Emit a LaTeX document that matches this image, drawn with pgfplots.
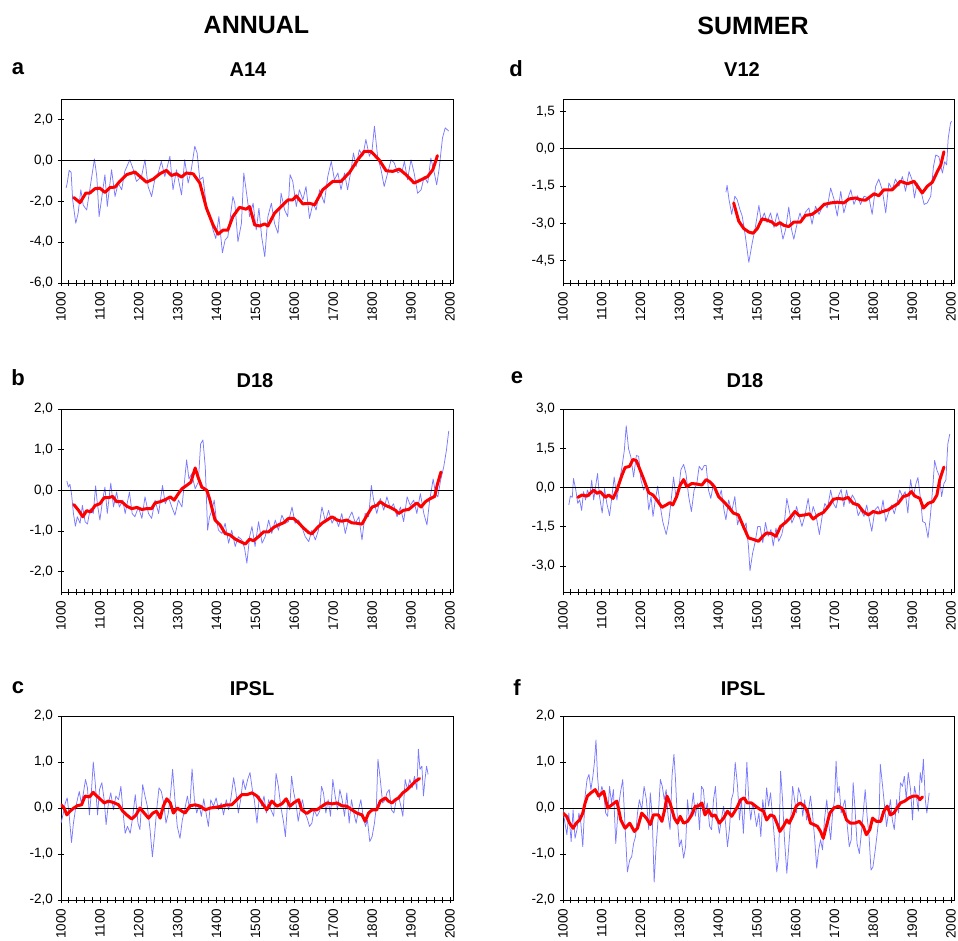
\documentclass[border=0pt]{standalone}
\usepackage{pgfplots}
\pgfplotsset{compat=1.18}
\usepackage{fontspec}
\setmainfont{Liberation Sans}
\definecolor{lblue}{RGB}{122,122,255}
\definecolor{dred}{RGB}{255,0,0}
\pgfplotsset{
  panel/.style={
    scale only axis,
    xmin=1000, xmax=2008,
    xtick={1000,1100,...,2000},
    xticklabels={1000,1100,1200,1300,1400,1500,1600,1700,1800,1900,2000},
    minor xtick={1020,1040,...,1980},
    xtick pos=bottom, ytick pos=left,
    tick align=center,
    major tick length=6pt, minor tick length=6pt,
    xticklabel style={rotate=90, anchor=east, font=\fontsize{13.5}{15}\selectfont, inner sep=5.5pt},
    yticklabel style={font=\fontsize{13.5}{15}\selectfont, inner sep=1pt, xshift=-4pt},
    axis line style={black, line width=0.8pt},
    tick style={black, line width=0.7pt},
    clip=true,
  },
  blueline/.style={lblue, line width=0.75pt, line join=round},
  redline/.style={dred, line width=3pt, line join=round, line cap=round},
  zeroline/.style={black, line width=0.8pt},
}
\begin{document}
\begin{tikzpicture}
\path[use as bounding box] (0pt,0pt) rectangle (958pt,-940pt);
\node[font=\bfseries\fontsize{25}{28}\selectfont] at (256.5pt,-25.5pt) {ANNUAL};
\node[font=\bfseries\fontsize{25}{28}\selectfont] at (753pt,-25.5pt) {SUMMER};
\node[font=\bfseries\fontsize{22}{24}\selectfont] at (18pt,-69pt) {a};
\node[font=\bfseries\fontsize{20}{24}\selectfont] at (248pt,-70pt) {A14};
\node[font=\bfseries\fontsize{22}{24}\selectfont] at (18pt,-378pt) {b};
\node[font=\bfseries\fontsize{20}{24}\selectfont] at (255pt,-381pt) {D18};
\node[font=\bfseries\fontsize{22}{24}\selectfont] at (18pt,-688pt) {c};
\node[font=\bfseries\fontsize{20}{24}\selectfont] at (252pt,-689pt) {IPSL};
\node[font=\bfseries\fontsize{22}{24}\selectfont] at (516pt,-69pt) {d};
\node[font=\bfseries\fontsize{20}{24}\selectfont] at (742pt,-70pt) {V12};
\node[font=\bfseries\fontsize{22}{24}\selectfont] at (517pt,-378pt) {e};
\node[font=\bfseries\fontsize{20}{24}\selectfont] at (745pt,-381pt) {D18};
\node[font=\bfseries\fontsize{22}{24}\selectfont] at (517pt,-688pt) {f};
\node[font=\bfseries\fontsize{20}{24}\selectfont] at (743pt,-689pt) {IPSL};

% ---------------- a: A14 annual
\begin{axis}[panel, at={(61pt,-99pt)}, anchor=north west, width=392pt, height=184pt,
  ymin=-6, ymax=3, ytick={-6,-4,-2,0,2}, yticklabels={{-6,0},{-4,0},{-2,0},{0,0},{2,0}}]
\addplot[blueline] coordinates {
(1013,-1.36)(1016,-1.11)(1021,-0.49)(1026,-0.59)(1030,-1.93)(1038,-3.08)(1044,-2.59)(1051,-1.44)(1057,-2.18)(1066,-2.43)
(1074,-1.44)(1086,0.07)(1092,-0.79)(1098,-2.75)(1104,-1.93)(1113,-0.70)(1119,-2.26)(1130,-0.46)(1139,-1.77)(1147,-1.11)
(1156,-1.44)(1164,-0.54)(1177,0.03)(1186,-0.46)(1194,-1.03)(1207,-0.79)(1216,0.03)(1224,-1.28)(1233,-1.77)(1241,-0.95)
(1250,-0.62)(1258,-0.05)(1267,-0.79)(1280,0.20)(1288,-1.44)(1297,-0.46)(1310,-1.69)(1318,0.03)(1327,-1.11)(1335,-0.46)
(1344,0.69)(1350,0.36)(1357,-0.95)(1365,-0.82)(1374,-2.26)(1381,-2.59)(1391,-3.41)(1398,-3.82)(1406,-2.75)(1415,-4.52)
(1422,-3.90)(1429,-3.74)(1442,-1.77)(1447,-2.10)(1455,-3.98)(1464,-3.08)(1470,-0.62)(1476,-1.44)(1485,-2.75)(1494,-2.10)
(1502,-3.41)(1509,-2.34)(1516,-3.74)(1524,-4.72)(1532,-2.75)(1541,-2.10)(1549,-3.08)(1558,-3.57)(1566,-1.61)(1575,-2.43)
(1583,-2.75)(1589,-0.70)(1596,-1.03)(1605,-2.26)(1613,-1.44)(1622,-1.93)(1630,-1.28)(1639,-2.84)(1648,-2.10)(1656,-2.43)
(1665,-1.44)(1677,-2.10)(1686,-0.79)(1695,-0.05)(1703,-0.95)(1712,-0.62)(1720,-1.44)(1729,-0.62)(1737,-1.44)(1746,-0.46)
(1752,0.36)(1759,-0.30)(1767,0.52)(1776,0.20)(1784,1.02)(1793,0.20)(1800,0.52)(1806,1.67)(1814,0.20)(1823,-0.46)
(1831,-1.28)(1840,-0.62)(1849,0.03)(1857,-0.13)(1866,-0.62)(1878,-0.46)(1883,-0.05)(1891,-0.95)(1900,0.03)(1908,-0.62)
(1917,-1.61)(1926,-1.44)(1934,-0.79)(1943,-1.11)(1951,0.11)(1960,-0.62)(1966,-1.20)(1972,-0.46)(1981,1.10)(1988,1.59)(1997,1.43)
};
\addplot[zeroline] coordinates {(1000,0)(2008,0)};
\addplot[redline] coordinates {
(1033,-1.82)(1049,-2.07)(1064,-1.6)(1074,-1.6)(1087,-1.39)(1100,-1.36)(1113,-1.57)(1126,-1.33)(1139,-1.31)(1151,-1.03)
(1169,-0.7)(1190,-0.57)(1203,-0.79)(1220,-1.07)(1237,-0.92)(1254,-0.66)(1271,-0.49)(1284,-0.74)(1297,-0.66)(1310,-0.82)
(1322,-0.62)(1340,-0.66)(1357,-1.11)(1374,-2.34)(1391,-3.16)(1404,-3.61)(1417,-3.41)(1429,-3.41)(1442,-2.75)(1459,-2.3)
(1476,-2.39)(1485,-2.26)(1498,-3.16)(1511,-3.21)(1524,-3.11)(1532,-3.21)(1549,-2.59)(1566,-2.26)(1584,-1.93)(1596,-1.93)
(1605,-1.74)(1622,-2.13)(1639,-2.1)(1652,-2.18)(1673,-1.44)(1699,-1.03)(1720,-1.03)(1742,-0.59)(1763,0.03)(1780,0.44)
(1797,0.44)(1819,0.0)(1836,-0.51)(1853,-0.54)(1870,-0.43)(1887,-0.7)(1908,-1.11)(1926,-0.95)(1943,-0.79)(1956,-0.46)(1968,0.23)
};
\end{axis}

% ---------------- b: D18 annual
\begin{axis}[panel, at={(61pt,-409pt)}, anchor=north west, width=392pt, height=183pt,
  ymin=-2.5, ymax=2, ytick={-2,-1,0,1,2}, yticklabels={{-2,0},{-1,0},{0,0},{1,0},{2,0}}]
\addplot[blueline] coordinates {
(1015,0.23)(1019,0.08)(1023,0.15)(1027,-0.08)(1032,-0.57)(1037,-0.88)(1042,-0.65)(1049,-0.81)(1055,-0.37)(1062,-0.77)
(1068,-0.83)(1075,-0.45)(1083,-0.57)(1089,0.11)(1094,-0.37)(1100,-0.73)(1107,-0.24)(1113,0.08)(1119,-0.57)(1128,0.18)
(1135,-0.41)(1143,-0.04)(1150,-0.41)(1159,-0.24)(1165,-0.57)(1176,-0.04)(1183,-0.57)(1190,-0.65)(1199,-0.41)(1208,-0.69)
(1216,-0.16)(1225,-0.57)(1233,-0.69)(1242,-0.24)(1251,-0.57)(1261,0.12)(1268,-0.33)(1276,-0.16)(1285,-0.41)(1293,-0.61)
(1302,-0.24)(1311,-0.41)(1317,0.16)(1323,0.75)(1329,0.28)(1336,0.41)(1345,0.04)(1353,0.20)(1359,1.14)(1365,1.24)
(1371,0.57)(1377,-0.98)(1382,-0.65)(1388,-0.49)(1394,-0.24)(1399,-0.69)(1405,-0.98)(1414,-1.06)(1422,-0.81)(1431,-1.30)
(1439,-0.98)(1448,-1.38)(1456,-1.14)(1465,-1.22)(1472,-1.42)(1478,-1.79)(1485,-1.14)(1491,-0.89)(1499,-1.38)(1508,-0.77)
(1517,-1.30)(1525,-1.14)(1534,-0.73)(1542,-1.06)(1551,-0.73)(1559,-0.98)(1568,-0.61)(1577,-0.81)(1585,-0.77)(1594,-0.41)
(1602,-0.81)(1611,-0.73)(1619,-0.89)(1628,-1.14)(1637,-1.26)(1645,-0.98)(1654,-1.22)(1662,-0.98)(1671,-0.41)(1680,-0.77)
(1688,-0.49)(1697,-0.81)(1705,-0.65)(1714,-0.89)(1722,-0.57)(1731,-1.06)(1740,-0.69)(1748,-0.53)(1757,-0.81)(1766,-0.65)
(1774,-1.22)(1782,-0.57)(1791,-0.65)(1798,0.12)(1804,-0.24)(1812,-0.57)(1821,-0.20)(1830,-0.49)(1838,-0.16)(1847,-0.45)
(1855,-0.33)(1864,-0.65)(1873,-0.41)(1881,-0.77)(1890,-0.16)(1898,-0.37)(1907,-0.24)(1915,-0.57)(1924,-0.08)(1933,-0.57)
(1941,-0.85)(1948,-0.24)(1957,0.28)(1963,-0.08)(1969,-0.16)(1976,0.24)(1984,0.57)(1991,0.98)(1997,1.46)
};
\addplot[zeroline] coordinates {(1000,0)(2008,0)};
\addplot[redline] coordinates {
(1033,-0.35)(1045,-0.49)(1056,-0.65)(1066,-0.50)(1076,-0.53)(1088,-0.37)(1100,-0.33)(1111,-0.18)(1122,-0.18)(1133,-0.15)
(1143,-0.28)(1156,-0.28)(1169,-0.39)(1182,-0.45)(1195,-0.42)(1208,-0.47)(1220,-0.45)(1233,-0.45)(1242,-0.31)(1255,-0.28)
(1268,-0.23)(1281,-0.16)(1291,-0.24)(1302,-0.08)(1311,0.04)(1323,0.12)(1334,0.20)(1345,0.55)(1353,0.31)(1362,0.08)
(1375,0.0)(1383,-0.24)(1396,-0.73)(1409,-0.85)(1422,-1.06)(1435,-1.10)(1448,-1.20)(1461,-1.26)(1474,-1.32)(1485,-1.20)
(1495,-1.24)(1508,-1.14)(1521,-1.02)(1534,-1.02)(1547,-0.91)(1559,-0.85)(1572,-0.80)(1585,-0.69)(1598,-0.69)(1611,-0.80)
(1624,-0.93)(1637,-1.04)(1645,-1.07)(1658,-0.93)(1671,-0.81)(1684,-0.73)(1697,-0.65)(1710,-0.73)(1722,-0.76)(1735,-0.73)
(1748,-0.80)(1761,-0.81)(1774,-0.83)(1787,-0.61)(1800,-0.41)(1812,-0.37)(1821,-0.28)(1834,-0.37)(1847,-0.42)(1860,-0.49)
(1868,-0.57)(1881,-0.49)(1894,-0.47)(1907,-0.37)(1915,-0.31)(1926,-0.41)(1937,-0.28)(1950,-0.20)(1961,-0.15)(1967,0.12)(1977,0.45)
};
\end{axis}

% ---------------- c: IPSL annual
\begin{axis}[panel, at={(61pt,-716pt)}, anchor=north west, width=392pt, height=184pt,
  ymin=-2, ymax=2, ytick={-2,-1,0,1,2}, yticklabels={{-2,0},{-1,0},{0,0},{1,0},{2,0}}]
\addplot[blueline] coordinates {
(1000,-0.33)(1006,-0.11)(1011,0.11)(1016,0.22)(1021,-0.15)(1027,-0.75)(1032,-0.33)(1037,-0.04)(1042,0.18)(1047,0.36)
(1052,0.11)(1057,0.29)(1063,0.62)(1068,0.44)(1073,-0.15)(1078,0.33)(1083,1.00)(1088,0.55)(1094,-0.15)(1099,0.40)
(1105,0.55)(1111,0.18)(1116,-0.36)(1122,0.11)(1128,0.33)(1135,-0.04)(1141,0.26)(1148,0.18)(1154,0.47)(1159,-0.04)
(1165,-0.55)(1171,-0.40)(1178,-0.55)(1184,-0.22)(1191,0.29)(1198,-0.33)(1203,-0.47)(1210,0.51)(1216,0.26)(1222,0.04)
(1229,-0.47)(1235,-1.06)(1241,-0.55)(1246,-0.04)(1252,0.44)(1258,0.36)(1264,0.11)(1270,-0.33)(1276,-0.11)(1282,0.33)
(1287,0.84)(1293,0.18)(1299,-0.40)(1306,-0.66)(1312,-0.26)(1318,-0.04)(1325,0.26)(1331,-0.04)(1337,0.85)(1343,0.18)
(1349,-0.11)(1355,0.07)(1361,-0.18)(1367,0.20)(1373,-0.11)(1379,-0.40)(1385,0.18)(1392,0.04)(1399,0.22)(1405,-0.04)
(1412,0.11)(1418,-0.15)(1425,0.18)(1431,-0.04)(1437,0.22)(1444,0.66)(1450,0.33)(1456,-0.11)(1462,0.18)(1468,0.62)
(1474,0.40)(1480,0.62)(1486,0.77)(1492,0.40)(1497,0.18)(1504,-0.33)(1510,0.26)(1516,0.04)(1522,0.26)(1528,-0.11)
(1534,0.18)(1540,-0.04)(1547,-0.18)(1553,0.75)(1559,0.47)(1565,0.04)(1572,-0.29)(1577,-0.62)(1583,0.18)(1588,-0.04)
(1593,0.69)(1598,0.36)(1604,0.11)(1610,-0.29)(1615,-0.04)(1621,0.18)(1627,-0.11)(1633,-0.22)(1639,-0.40)(1645,-0.33)
(1651,-0.04)(1658,-0.18)(1665,-0.07)(1670,0.47)(1675,0.33)(1681,-0.11)(1687,0.18)(1693,-0.18)(1699,0.62)(1705,0.26)
(1711,-0.04)(1717,0.40)(1723,0.18)(1729,-0.18)(1735,0.33)(1741,-0.33)(1747,0.18)(1753,-0.11)(1759,-0.33)(1765,-0.04)
(1771,0.18)(1777,-0.18)(1783,-0.40)(1788,-0.26)(1794,-0.73)(1800,-0.62)(1806,-0.33)(1811,0.04)(1815,1.06)(1821,0.62)
(1827,0.11)(1834,0.18)(1838,0.33)(1844,0.40)(1850,-0.04)(1856,-0.11)(1862,0.18)(1868,0.26)(1874,0.04)(1879,-0.18)
(1885,0.62)(1891,0.40)(1897,0.62)(1903,0.44)(1909,0.69)(1915,0.40)(1919,1.28)(1923,0.84)(1928,0.91)(1932,0.26)
(1936,0.62)(1940,0.91)(1944,0.73)
};
\addplot[zeroline] coordinates {(1000,0)(2008,0)};
\addplot[redline] coordinates {
(1000,0.07)(1008,0.0)(1015,-0.15)(1023,-0.07)(1033,0.0)(1042,0.05)(1053,0.07)(1062,0.26)(1073,0.24)(1083,0.34)
(1092,0.26)(1100,0.20)(1111,0.11)(1122,0.15)(1135,0.12)(1148,0.07)(1159,-0.07)(1169,-0.15)(1182,-0.24)(1193,-0.15)
(1203,0.0)(1214,-0.11)(1225,-0.22)(1236,-0.11)(1246,-0.07)(1255,-0.22)(1263,0.04)(1272,0.20)(1281,0.11)(1289,-0.11)
(1299,0.0)(1311,-0.07)(1319,-0.11)(1332,0.05)(1345,0.07)(1358,0.04)(1371,-0.04)(1384,0.0)(1401,0.02)(1414,0.04)
(1426,0.07)(1439,0.07)(1452,0.18)(1465,0.29)(1478,0.29)(1491,0.33)(1504,0.26)(1517,0.11)(1529,-0.04)(1542,0.15)
(1555,0.04)(1568,0.09)(1579,0.20)(1589,0.04)(1598,0.11)(1611,0.18)(1619,-0.04)(1632,-0.12)(1645,-0.04)(1658,-0.04)
(1671,0.04)(1684,0.11)(1697,0.09)(1710,0.11)(1722,0.05)(1735,0.04)(1748,-0.04)(1761,-0.11)(1774,-0.15)(1782,-0.29)
(1791,-0.11)(1800,-0.04)(1812,-0.04)(1821,0.15)(1834,0.22)(1842,0.15)(1851,0.11)(1860,0.18)(1868,0.22)(1879,0.33)
(1890,0.40)(1903,0.51)(1911,0.58)(1922,0.64)
};
\end{axis}

% ---------------- d: V12 summer
\begin{axis}[panel, at={(563pt,-99pt)}, anchor=north west, width=391pt, height=184pt,
  ymin=-5.4, ymax=2.0, ytick={-4.5,-3,-1.5,0,1.5}, yticklabels={{-4,5},{-3,0},{-1,5},{0,0},{1,5}}]
\addplot[blueline] coordinates {
(1420,-1.75)(1423,-1.47)(1428,-2.05)(1435,-2.64)(1443,-1.91)(1449,-2.05)(1456,-2.44)(1462,-2.71)(1470,-3.51)(1479,-4.57)
(1488,-3.77)(1495,-3.24)(1505,-2.28)(1511,-2.91)(1519,-2.58)(1526,-2.97)(1535,-2.58)(1544,-3.17)(1552,-2.58)(1561,-3.11)
(1567,-3.64)(1574,-3.24)(1582,-2.34)(1589,-3.24)(1595,-3.64)(1604,-2.97)(1611,-2.58)(1617,-2.91)(1625,-2.55)(1634,-2.38)
(1642,-3.04)(1651,-2.31)(1660,-2.64)(1673,-2.18)(1681,-2.38)(1690,-1.58)(1699,-2.05)(1707,-2.71)(1716,-1.71)(1724,-2.58)
(1733,-2.05)(1742,-1.65)(1750,-2.24)(1759,-1.89)(1767,-2.24)(1776,-1.91)(1789,-1.98)(1797,-2.64)(1806,-1.51)(1814,-1.22)
(1823,-1.65)(1832,-2.58)(1840,-1.38)(1849,-1.65)(1857,-1.22)(1866,-1.51)(1875,-1.12)(1883,-1.71)(1892,-0.92)(1900,-1.25)
(1906,-1.98)(1913,-1.38)(1922,-1.65)(1931,-2.24)(1939,-2.18)(1948,-1.91)(1955,-0.72)(1961,-0.25)(1969,-0.32)(1978,-0.98)
(1984,-0.52)(1989,-0.65)(1993,0.41)(1999,1.04)(2002,1.10)
};
\addplot[zeroline] coordinates {(1000,0)(2008,0)};
\addplot[redline] coordinates {
(1440,-2.18)(1453,-2.91)(1466,-3.21)(1479,-3.35)(1490,-3.40)(1501,-3.21)(1513,-2.82)(1526,-2.87)(1539,-2.95)(1548,-3.08)
(1559,-2.97)(1569,-3.08)(1582,-3.13)(1595,-2.95)(1612,-2.95)(1625,-2.68)(1642,-2.64)(1660,-2.44)(1673,-2.24)(1690,-2.18)
(1707,-2.15)(1724,-2.18)(1737,-2.02)(1754,-1.98)(1767,-2.05)(1780,-2.07)(1802,-1.81)(1814,-1.89)(1827,-1.65)(1849,-1.65)
(1870,-1.31)(1888,-1.41)(1905,-1.31)(1926,-1.78)(1939,-1.51)(1952,-1.35)(1965,-0.92)(1974,-0.65)(1982,-0.12)
};
\end{axis}

% ---------------- e: D18 summer
\begin{axis}[panel, at={(563pt,-409pt)}, anchor=north west, width=391pt, height=183pt,
  ymin=-4, ymax=3, ytick={-3,-1.5,0,1.5,3}, yticklabels={{-3,0},{-1,5},{0,0},{1,5},{3,0}}]
\addplot[blueline] coordinates {
(1015,-0.67)(1019,-0.33)(1024,-0.38)(1027,0.34)(1033,-0.10)(1038,-0.61)(1043,-0.48)(1048,-0.88)(1053,-0.16)(1058,-0.48)
(1063,-0.10)(1069,-0.35)(1074,0.28)(1079,-0.48)(1084,0.03)(1089,0.53)(1094,-0.33)(1101,-0.98)(1107,-0.04)(1113,-0.61)
(1120,-1.08)(1126,-0.35)(1132,0.40)(1139,-0.48)(1146,0.28)(1152,0.78)(1158,1.41)(1163,2.36)(1169,1.48)(1175,1.16)
(1182,0.40)(1189,1.22)(1195,1.19)(1201,0.28)(1208,-0.10)(1215,0.15)(1221,-0.86)(1227,-0.35)(1232,-1.11)(1238,-0.48)
(1244,0.05)(1251,-0.73)(1257,-1.30)(1266,-1.80)(1272,-1.36)(1278,-0.61)(1285,0.40)(1291,-0.35)(1298,-0.10)(1304,0.68)
(1311,0.88)(1317,0.53)(1324,-0.35)(1331,-0.92)(1338,-0.10)(1345,0.15)(1351,0.81)(1358,0.66)(1364,0.84)(1369,0.84)
(1375,-0.10)(1381,-0.42)(1388,0.15)(1395,-0.23)(1402,-0.42)(1408,-0.10)(1415,-0.86)(1420,-1.24)(1427,-0.48)(1435,-0.92)
(1443,-0.35)(1450,-1.43)(1456,-1.11)(1465,-1.61)(1472,-1.36)(1478,-2.24)(1482,-3.19)(1489,-2.50)(1495,-2.12)(1502,-1.49)
(1508,-1.49)(1515,-2.12)(1522,-1.34)(1529,-1.87)(1536,-1.61)(1542,-2.24)(1549,-1.55)(1556,-2.06)(1564,-1.80)(1571,-1.30)
(1577,-0.42)(1583,-0.86)(1590,-1.36)(1597,-1.11)(1602,-0.73)(1609,-1.11)(1616,-1.49)(1624,-1.05)(1632,-0.42)(1639,-1.17)
(1645,-0.73)(1652,-1.05)(1661,-1.80)(1668,-1.11)(1675,-0.61)(1682,-0.79)(1690,-0.10)(1697,-0.61)(1704,-0.79)(1710,-0.33)
(1717,-0.08)(1724,-0.73)(1731,-0.10)(1738,-0.61)(1746,-0.29)(1753,-0.48)(1761,-1.08)(1768,-0.86)(1776,-1.11)(1783,-0.67)
(1789,-1.17)(1796,-1.68)(1804,-0.86)(1812,-0.73)(1819,-1.01)(1825,-0.48)(1832,-1.30)(1839,-0.98)(1847,-0.67)(1854,-1.01)
(1861,-0.61)(1868,-0.10)(1875,-0.35)(1882,-0.16)(1889,-0.98)(1896,0.30)(1903,-0.35)(1910,0.15)(1915,0.38)(1922,-0.48)
(1927,-1.30)(1934,-1.36)(1941,-1.93)(1947,-1.11)(1954,0.15)(1958,1.03)(1964,0.66)(1971,0.40)(1976,-0.35)(1982,0.15)
(1987,0.28)(1992,1.66)(1997,2.04)
};
\addplot[zeroline] coordinates {(1000,0)(2008,0)};
\addplot[redline] coordinates {
(1038,-0.38)(1049,-0.29)(1062,-0.33)(1070,-0.23)(1079,-0.10)(1088,-0.23)(1096,-0.16)(1109,-0.38)(1118,-0.29)(1129,-0.42)
(1139,-0.10)(1152,0.47)(1160,0.76)(1172,0.81)(1180,1.07)(1189,1.03)(1199,0.66)(1209,0.28)(1221,-0.20)(1232,-0.29)
(1242,-0.48)(1255,-0.76)(1266,-0.67)(1276,-0.58)(1283,-0.67)(1293,-0.35)(1302,0.09)(1311,0.30)(1319,0.03)(1332,0.15)
(1345,0.13)(1358,0.09)(1369,0.30)(1379,0.21)(1390,0.03)(1401,-0.35)(1414,-0.54)(1426,-0.73)(1439,-0.98)(1452,-1.05)
(1465,-1.49)(1478,-1.93)(1491,-1.99)(1504,-2.06)(1515,-1.87)(1525,-1.74)(1538,-1.77)(1549,-1.87)(1561,-1.49)(1572,-1.36)
(1585,-1.17)(1598,-0.92)(1609,-1.08)(1624,-1.05)(1635,-1.01)(1645,-1.21)(1658,-1.05)(1671,-0.96)(1684,-0.73)(1697,-0.45)
(1710,-0.42)(1722,-0.45)(1735,-0.38)(1748,-0.61)(1761,-0.67)(1774,-0.92)(1787,-1.05)(1800,-0.92)(1813,-0.98)(1825,-0.92)
(1838,-0.86)(1851,-0.73)(1864,-0.61)(1877,-0.35)(1890,-0.29)(1898,-0.16)(1907,-0.33)(1920,-0.42)(1929,-0.79)(1941,-0.61)
(1954,-0.54)(1964,-0.29)(1971,0.28)(1982,0.78)
};
\end{axis}

% ---------------- f: IPSL summer
\begin{axis}[panel, at={(563pt,-716pt)}, anchor=north west, width=391pt, height=184pt,
  ymin=-2, ymax=2, ytick={-2,-1,0,1,2}, yticklabels={{-2,0},{-1,0},{0,0},{1,0},{2,0}}]
\addplot[blueline] coordinates {
(1000,-0.04)(1005,-0.33)(1010,-0.58)(1015,-0.11)(1021,-0.73)(1026,-0.04)(1031,-0.66)(1036,-0.47)(1041,-0.11)(1046,-0.33)
(1051,-0.84)(1057,0.26)(1062,0.62)(1067,0.73)(1072,0.40)(1077,0.69)(1081,0.99)(1085,1.48)(1089,0.69)(1094,0.18)
(1100,0.47)(1105,0.33)(1110,-0.11)(1115,-0.18)(1120,0.47)(1125,0.11)(1130,0.40)(1136,-0.77)(1142,-0.04)(1148,0.33)
(1154,0.62)(1160,-0.40)(1166,-1.39)(1172,-1.13)(1177,-1.06)(1182,-0.77)(1187,-0.62)(1192,-0.11)(1197,0.18)(1203,-0.04)
(1209,0.47)(1215,0.18)(1221,-0.47)(1225,0.33)(1230,-0.18)(1235,-1.61)(1240,-0.84)(1245,-0.26)(1251,0.62)(1256,0.47)
(1261,0.18)(1266,0.40)(1271,-0.18)(1276,-0.47)(1281,0.69)(1286,1.17)(1290,0.62)(1295,-0.26)(1300,-0.84)(1305,-0.69)
(1311,-1.09)(1316,-0.84)(1321,0.18)(1326,-0.26)(1331,-0.04)(1336,0.33)(1341,-0.18)(1347,0.11)(1352,-0.47)(1357,0.47)
(1362,0.40)(1367,-0.11)(1372,0.11)(1378,-0.40)(1383,-0.47)(1388,0.18)(1393,0.47)(1398,-0.26)(1403,-0.55)(1408,-0.26)
(1414,0.04)(1419,-0.33)(1424,-0.84)(1429,-0.47)(1434,0.18)(1439,0.33)(1444,0.99)(1450,0.47)(1455,-0.26)(1460,0.18)
(1465,-0.55)(1470,0.26)(1474,0.99)(1479,0.18)(1484,-0.26)(1489,0.11)(1494,-0.11)(1499,-0.40)(1505,-0.11)(1510,-0.62)
(1515,0.18)(1520,-0.18)(1525,0.44)(1530,0.04)(1535,0.33)(1541,-0.26)(1546,-0.77)(1551,-1.39)(1556,-1.06)(1561,0.80)
(1566,0.18)(1571,-0.69)(1577,-1.42)(1582,-0.84)(1587,-0.26)(1592,0.47)(1597,0.18)(1602,-0.11)(1607,0.44)(1613,0.26)
(1618,-0.18)(1623,0.18)(1628,-0.26)(1633,-0.04)(1638,0.26)(1643,-0.11)(1649,-0.69)(1654,-1.31)(1659,-0.91)(1664,-0.69)
(1669,-0.91)(1674,-0.26)(1680,0.18)(1685,-0.33)(1690,-0.69)(1695,-0.11)(1700,0.18)(1704,1.02)(1708,0.33)(1712,0.47)
(1717,-0.11)(1722,0.04)(1727,0.18)(1733,-0.40)(1738,-0.84)(1743,-0.69)(1748,0.55)(1753,-0.04)(1758,-0.77)(1764,-0.99)
(1769,-0.55)(1774,-0.11)(1779,0.40)(1784,-0.18)(1789,-0.62)(1794,-1.35)(1799,-1.28)(1805,-0.91)(1810,-0.55)(1815,-0.15)
(1818,0.95)(1824,0.47)(1829,0.04)(1834,-0.40)(1839,-0.11)(1844,0.18)(1849,-0.26)(1854,-0.47)(1860,0.18)(1865,-0.11)
(1870,0.55)(1875,0.47)(1880,0.69)(1885,0.18)(1890,0.77)(1896,0.40)(1901,-0.26)(1906,0.47)(1911,0.26)(1916,-0.07)
(1921,0.77)(1925,0.55)(1929,1.06)(1934,0.18)(1938,-0.11)(1944,0.33)
};
\addplot[zeroline] coordinates {(1000,0)(2008,0)};
\addplot[redline] coordinates {
(1000,-0.11)(1009,-0.18)(1017,-0.33)(1026,-0.44)(1034,-0.33)(1043,-0.26)(1051,-0.11)(1057,0.11)(1063,0.26)(1072,0.33)
(1083,0.40)(1092,0.26)(1105,0.36)(1115,0.0)(1126,0.07)(1139,0.15)(1149,-0.26)(1160,-0.44)(1172,-0.33)(1184,-0.51)
(1192,-0.44)(1203,-0.11)(1215,-0.22)(1225,-0.36)(1233,-0.15)(1246,-0.15)(1255,-0.29)(1263,0.0)(1268,0.26)(1276,0.11)
(1287,-0.22)(1295,-0.33)(1302,-0.18)(1311,-0.33)(1321,-0.29)(1332,-0.15)(1341,0.04)(1349,0.04)(1358,0.11)(1366,-0.15)
(1375,-0.04)(1384,-0.18)(1392,-0.15)(1403,-0.33)(1414,-0.22)(1424,-0.07)(1435,-0.18)(1448,0.0)(1458,0.18)(1467,0.22)
(1475,0.11)(1486,0.11)(1495,0.05)(1506,-0.02)(1517,-0.07)(1525,-0.26)(1535,-0.15)(1544,-0.18)(1553,-0.36)(1559,-0.51)
(1568,-0.40)(1577,-0.26)(1583,-0.33)(1592,-0.18)(1601,0.04)(1611,0.11)(1621,0.05)(1630,-0.07)(1638,-0.33)(1647,-0.36)
(1656,-0.40)(1664,-0.51)(1671,-0.66)(1680,-0.36)(1688,-0.11)(1698,0.0)(1710,0.04)(1721,-0.02)(1731,-0.26)(1741,-0.33)
(1752,-0.33)(1764,-0.29)(1774,-0.40)(1782,-0.58)(1791,-0.47)(1798,-0.22)(1808,-0.29)(1819,-0.29)(1827,-0.07)(1836,0.04)
(1844,-0.15)(1853,-0.11)(1861,0.0)(1870,0.11)(1881,0.15)(1892,0.22)(1903,0.26)(1913,0.26)(1920,0.18)(1927,0.24)
};
\end{axis}
\end{tikzpicture}
\end{document}
